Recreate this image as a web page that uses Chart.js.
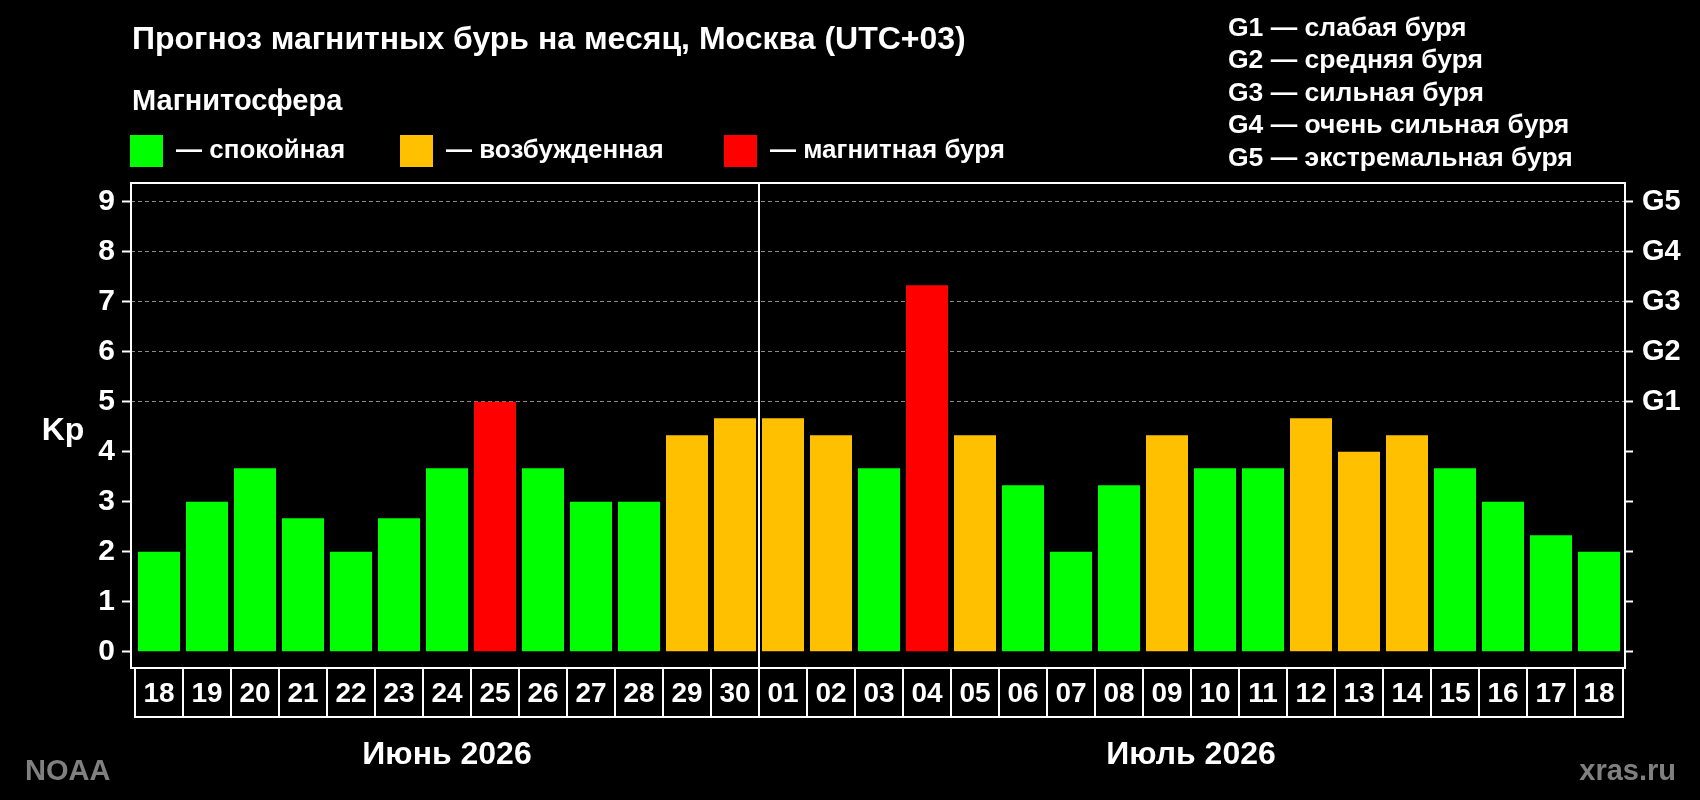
<!DOCTYPE html>
<html lang="ru">
<head>
<meta charset="utf-8">
<title>Прогноз магнитных бурь на месяц</title>
<script src="https://cdn.jsdelivr.net/npm/chart.js@4.4.1/dist/chart.umd.min.js"></script>
<style>
  html, body { margin: 0; padding: 0; background: #000; }
  canvas { display: block; }
</style>
</head>
<body>
<canvas id="kpChart" width="1700" height="800"></canvas>
<script>
// данные прогноза (Kp по дням)
const days = ['18', '19', '20', '21', '22', '23', '24', '25', '26', '27', '28', '29', '30',
              '01', '02', '03', '04', '05', '06', '07', '08', '09', '10', '11', '12', '13', '14', '15', '16', '17', '18'];
const kpValues = [2, 3, 3.67, 2.67, 2, 2.67, 3.67, 5, 3.67, 3, 3, 4.33, 4.67,
                  4.67, 4.33, 3.67, 7.33, 4.33, 3.33, 2, 3.33, 4.33, 3.67, 3.67, 4.67, 4, 4.33, 3.67, 3, 2.33, 2];
const months = ['Июнь 2026', 'Июль 2026'];
const monthStart = [0, 13];
const kpTicks = [0, 1, 2, 3, 4, 5, 6, 7, 8, 9];
const stormLevels = ['G1', 'G2', 'G3', 'G4', 'G5'];
const stormNames = ['G1 — слабая буря', 'G2 — средняя буря', 'G3 — сильная буря', 'G4 — очень сильная буря', 'G5 — экстремальная буря'];
const legendNames = ['— спокойная', '— возбужденная', '— магнитная буря'];
const legendColors = ['#00ff00', '#ffc000', '#ff0000'];

const FONT = "'Liberation Sans', Arial, sans-serif";
const font = (size) => 'bold ' + size + 'px ' + FONT;

function colorFor(v) {
    if (v >= 5) return legendColors[2];
    if (v >= 4) return legendColors[1];
    return legendColors[0];
}

// рамка, ячейки с датами, подписи и легенда
const decor = {
    id: 'decor',
    afterDraw(chart) {
        const c = chart.ctx;
        const area = chart.chartArea;
        const xs = chart.scales.x;
        c.save();
        c.strokeStyle = '#fff';
        c.lineWidth = 2;
        c.strokeRect(area.left, area.top, area.right - area.left, area.bottom - area.top);

        // разделитель месяцев
        const xd = Math.round(xs.getPixelForValue(monthStart[1] - 0.5));
        c.beginPath();
        c.moveTo(xd, area.top);
        c.lineTo(xd, area.bottom);
        c.stroke();

        // ячейки с числами
        const cellBottom = xs.bottom;
        days.forEach((d, i) => {
            const l = xs.getPixelForValue(i - 0.5);
            const r = xs.getPixelForValue(i + 0.5);
            c.strokeRect(l, area.bottom, r - l, cellBottom - area.bottom);
        });

        c.fillStyle = '#fff';
        c.textAlign = 'center';
        c.font = font(32);
        months.forEach((m, k) => {
            const from = monthStart[k];
            const to = k + 1 < monthStart.length ? monthStart[k + 1] - 1 : days.length - 1;
            const mid = (xs.getPixelForValue(from - 0.5) + xs.getPixelForValue(to + 0.5)) / 2;
            c.fillText(m, mid, 764);
        });

        c.font = font(32);
        c.fillText('Kp', 63, 440);

        c.textAlign = 'left';
        c.font = font(32);
        c.fillText('Прогноз магнитных бурь на месяц, Москва (UTC+03)', 132, 49);
        c.font = font(29);
        c.fillText('Магнитосфера', 132, 110);

        c.font = font(26);
        const boxX = [130, 400, 724];
        legendNames.forEach((t, i) => {
            c.fillStyle = legendColors[i];
            c.fillRect(boxX[i], 135, 33, 32);
            c.fillStyle = '#fff';
            c.fillText(t, boxX[i] + 46, 158);
        });

        c.font = font(26.5);
        stormNames.forEach((t, i) => {
            c.fillText(t, 1228, 35.5 + i * 32.5);
        });

        c.fillStyle = '#808080';
        c.font = font(29);
        c.fillText('NOAA', 25, 780);
        c.textAlign = 'right';
        c.fillText('xras.ru', 1676, 780);
        c.restore();
    }
};

new Chart(document.getElementById('kpChart'), {
    type: 'bar',
    data: {
        datasets: [{
            data: kpValues.map((v, i) => ({ x: i, y: v })),
            backgroundColor: kpValues.map(colorFor),
            borderWidth: 0,
            categoryPercentage: 1,
            barPercentage: 0.875
        }]
    },
    options: {
        responsive: false,
        animation: false,
        devicePixelRatio: 1,
        layout: { padding: { top: 183, bottom: 83, left: 0, right: 0 } },
        plugins: { legend: { display: false }, tooltip: { enabled: false } },
        scales: {
            x: {
                type: 'linear',
                offset: false,
                min: -0.5 - 4 / 48,
                max: days.length - 0.5 + 2 / 48,
                afterBuildTicks: s => { s.ticks = days.map((d, i) => ({ value: i })); },
                afterFit: s => { s.height = 49; },
                ticks: { callback: v => days[v], color: '#fff', font: { family: FONT, size: 28, weight: 'bold' },
                         padding: 9, autoSkip: false, maxRotation: 0 },
                grid: { display: false, drawTicks: false, offset: false },
                border: { display: false }
            },
            y: {
                position: 'left',
                min: -0.326,
                max: 9.374,
                afterBuildTicks: s => { s.ticks = kpTicks.map(v => ({ value: v })); },
                afterFit: s => { s.width = 131; },
                ticks: { color: '#fff', font: { family: FONT, size: 30, weight: 'bold' }, padding: 7 },
                grid: {
                    color: c => (c.tick && c.tick.value >= 5 ? '#8a8a8a' : 'rgba(0,0,0,0)'),
                    lineWidth: 1, tickColor: '#fff', tickLength: 9, tickWidth: 2
                },
                border: { display: false, dash: [4, 3] }
            },
            y2: {
                position: 'right',
                min: -0.326,
                max: 9.374,
                afterBuildTicks: s => { s.ticks = kpTicks.map(v => ({ value: v })); },
                afterFit: s => { s.width = 75; },
                ticks: { callback: v => (v >= 5 ? stormLevels[v - 5] : ''), color: '#fff',
                         font: { family: FONT, size: 29, weight: 'bold' }, padding: 9 },
                grid: { drawOnChartArea: false, tickColor: '#fff', tickLength: 8, tickWidth: 2 },
                border: { display: false }
            }
        }
    },
    plugins: [decor]
});
</script>
</body>
</html>
